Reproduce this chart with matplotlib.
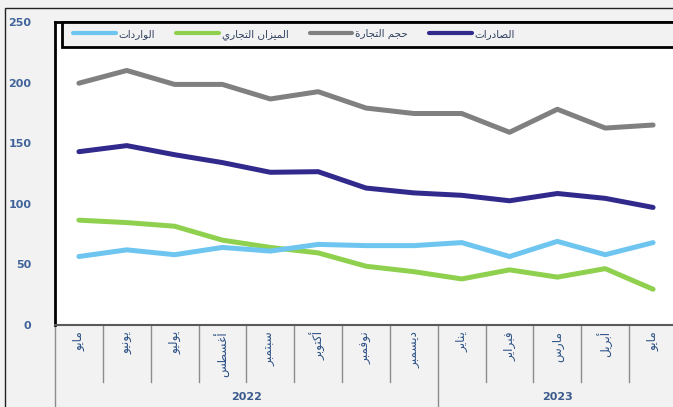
import matplotlib
matplotlib.use("Agg")
import matplotlib.pyplot as plt
from matplotlib.patches import Rectangle

# ---------------- data ----------------
months = ["مايو", "يونيو", "يوليو", "أغسطس", "سبتمبر", "أكتوبر", "نوفمبر",
          "ديسمبر", "يناير", "فبراير", "مارس", "أبريل", "مايو"]
years = ["2022", "2023"]
year_counts = [8, 5]
series_names = ["الصادرات", "حجم التجارة", "الميزان التجاري", "الواردات"]
exports = [143, 148, 140.5, 134, 126, 126.5, 113, 109, 107, 102.5, 108.5, 104.5, 97]
trade_volume = [199.5, 210, 198.5, 198.5, 186.5, 192.5, 179, 174.5, 174.5, 159, 178, 162.5, 165]
trade_balance = [86.5, 84.5, 81.5, 70, 64, 59.5, 48.5, 44, 38, 45.5, 39.5, 46.5, 29.5]
imports = [56.5, 62, 58, 64, 61, 66.5, 65.5, 65.5, 68, 56.5, 69, 58, 68]
yticks = [0, 50, 100, 150, 200, 250]

colors = ["#312a8c", "#808080", "#8fd14f", "#6ec5f0"]

# ------------- minimal Arabic shaping -------------
FORMS = {
    'ا': ('\uFE8D', '\uFE8E', None, None),
    'أ': ('\uFE83', '\uFE84', None, None),
    'ب': ('\uFE8F', '\uFE90', '\uFE91', '\uFE92'),
    'ة': ('\uFE93', '\uFE94', None, None),
    'ت': ('\uFE95', '\uFE96', '\uFE97', '\uFE98'),
    'ج': ('\uFE9D', '\uFE9E', '\uFE9F', '\uFEA0'),
    'ح': ('\uFEA1', '\uFEA2', '\uFEA3', '\uFEA4'),
    'د': ('\uFEA9', '\uFEAA', None, None),
    'ر': ('\uFEAD', '\uFEAE', None, None),
    'ز': ('\uFEAF', '\uFEB0', None, None),
    'س': ('\uFEB1', '\uFEB2', '\uFEB3', '\uFEB4'),
    'ص': ('\uFEB9', '\uFEBA', '\uFEBB', '\uFEBC'),
    'ط': ('\uFEC1', '\uFEC2', '\uFEC3', '\uFEC4'),
    'غ': ('\uFECD', '\uFECE', '\uFECF', '\uFED0'),
    'ف': ('\uFED1', '\uFED2', '\uFED3', '\uFED4'),
    'ك': ('\uFED9', '\uFEDA', '\uFEDB', '\uFEDC'),
    'ل': ('\uFEDD', '\uFEDE', '\uFEDF', '\uFEE0'),
    'م': ('\uFEE1', '\uFEE2', '\uFEE3', '\uFEE4'),
    'ن': ('\uFEE5', '\uFEE6', '\uFEE7', '\uFEE8'),
    'و': ('\uFEED', '\uFEEE', None, None),
    'ي': ('\uFEF1', '\uFEF2', '\uFEF3', '\uFEF4'),
}


def shape(s):
    out = []
    n = len(s)
    for i, c in enumerate(s):
        if c not in FORMS:
            out.append(c)
            continue
        iso, fin, ini, med = FORMS[c]
        prev_c = s[i - 1] if i > 0 else None
        next_c = s[i + 1] if i < n - 1 else None
        prev_joins = prev_c in FORMS and FORMS[prev_c][2] is not None
        next_joins = next_c in FORMS
        if prev_joins and next_joins and med is not None:
            out.append(med)
        elif prev_joins:
            out.append(fin)
        elif next_joins and ini is not None:
            out.append(ini)
        else:
            out.append(iso)
    return "".join(out)[::-1]


# ---------------- figure ----------------
W, H = 673, 407
fig = plt.figure(figsize=(W / 100, H / 100), dpi=100)
fig.patch.set_facecolor("#f2f2f2")

def fx(px):
    return px / W

def fy(py):
    return (H - py) / H

left, right, top, bottom = 55, 677, 22, 325
ax = fig.add_axes([fx(left), fy(bottom), (right - left) / W, (bottom - top) / H])
ax.set_facecolor("white")

x = list(range(len(months)))
all_series = [exports, trade_volume, trade_balance, imports]
handles = []
for vals, col, name in zip(all_series, colors, series_names):
    ln, = ax.plot(x, vals, color=col, lw=3.6, solid_capstyle="round",
                  solid_joinstyle="round", label=shape(name), zorder=3)
    handles.append(ln)

ax.set_xlim(-0.5, len(months) - 0.5)
ax.set_ylim(0, 250)
ax.set_xticks([])
ax.set_yticks(yticks)
ax.tick_params(axis="y", length=0, pad=17, labelsize=8, labelcolor="#40649a")
for t in ax.get_yticklabels():
    t.set_fontweight("bold")

for s in ["left", "top"]:
    ax.spines[s].set_color("black")
    ax.spines[s].set_linewidth(2)
ax.spines["right"].set_visible(False)
ax.spines["bottom"].set_color("#5a5a5a")
ax.spines["bottom"].set_linewidth(1.5)

# category axis below
tr = ax.get_xaxis_transform()
ax_h = bottom - top
def ay(py):
    return (bottom - py) / ax_h

sep_col = "#8c8c8c"
ax.plot([-0.5, -0.5], [0, ay(407)], transform=tr, color=sep_col, lw=1, clip_on=False)
boundaries = []
acc = 0
for c in year_counts:
    acc += c
    boundaries.append(acc - 0.5)
for i in range(len(months) - 1):
    xb = i + 0.5
    yend = ay(407) if xb in boundaries else ay(382)
    ax.plot([xb, xb], [0, yend], transform=tr, color=sep_col, lw=1, clip_on=False)

for i, m in enumerate(months):
    ax.text(i, ay(331), shape(m), transform=tr, rotation=90, ha="center", va="top",
            fontsize=8.7, color="#2e5386")

start = -0.5
for yr, c in zip(years, year_counts):
    ax.text(start + c / 2, ay(397), yr, transform=tr, ha="center", va="center",
            fontsize=8, fontweight="bold", color="#3b5b8c")
    start += c

# legend box
rect = Rectangle((fx(62), fy(47)), fx(700) - fx(62), fy(22) - fy(47), transform=fig.transFigure,
                 facecolor="#f2f2f2", edgecolor="black", lw=2, zorder=4.5, clip_on=False)
ax.add_patch(rect)
leg = ax.legend(handles=handles[::-1], ncol=4, frameon=False, loc="center left",
                bbox_to_anchor=(fx(73), fy(34.5)), bbox_transform=fig.transFigure,
                fontsize=7.5, handlelength=4.1, handletextpad=0.3, columnspacing=2.0,
                borderaxespad=0, borderpad=0)
leg.set_zorder(5)
for h in leg.legend_handles:
    h.set_linewidth(3.0)
for t in leg.get_texts():
    t.set_color("#2f3f5f")

# outer frame
fig.add_artist(Rectangle((fx(5), fy(420)), fx(700) - fx(5), fy(8) - fy(420),
                         transform=fig.transFigure, fill=False, edgecolor="#222222", lw=1))

fig.savefig("out.png", dpi=100, facecolor=fig.get_facecolor())
